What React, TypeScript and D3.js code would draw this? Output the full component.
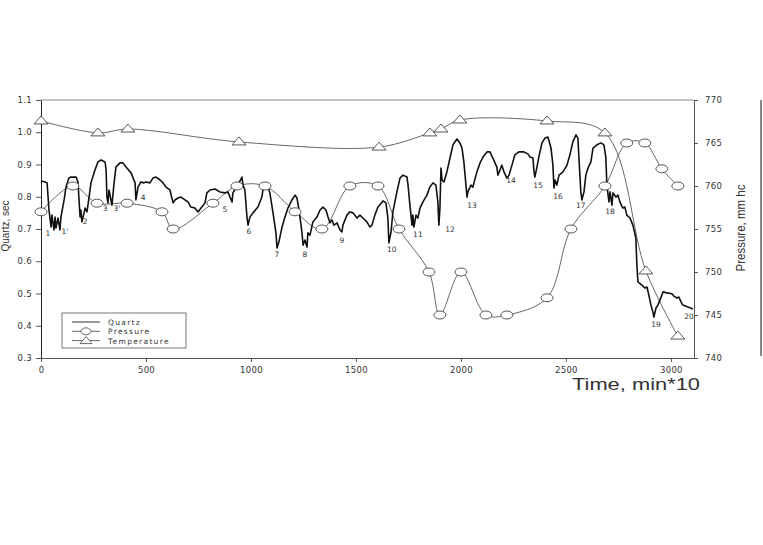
import React, { useRef, useEffect } from 'react';
import * as d3 from 'd3';

// Quartz record: [time (min*10), value (sec)]
const quartz: [number, number][] = [
  [0, 0.849], [19, 0.846], [29, 0.843], [38, 0.759], [48, 0.706], [52, 0.743], [62, 0.697], [67, 0.737],
  [71, 0.703], [81, 0.734], [90, 0.697], [95, 0.737], [110, 0.79], [119, 0.83], [133, 0.858], [143, 0.861],
  [167, 0.861], [176, 0.846], [186, 0.737], [190, 0.759], [195, 0.722], [205, 0.75], [210, 0.765], [219, 0.753],
  [229, 0.799], [238, 0.843], [257, 0.883], [271, 0.908], [286, 0.914], [305, 0.908], [310, 0.883], [314, 0.799],
  [319, 0.781], [324, 0.821], [333, 0.79], [338, 0.774], [348, 0.843], [357, 0.892], [376, 0.905], [390, 0.905],
  [405, 0.892], [429, 0.874], [448, 0.843], [452, 0.79], [462, 0.83], [476, 0.846], [490, 0.843], [500, 0.846],
  [519, 0.843], [533, 0.858], [548, 0.861], [567, 0.852], [581, 0.843], [595, 0.83], [614, 0.821], [629, 0.781],
  [638, 0.79], [652, 0.796], [667, 0.799], [686, 0.79], [700, 0.784], [714, 0.768], [733, 0.765], [748, 0.753],
  [762, 0.765], [781, 0.781], [790, 0.812], [805, 0.821], [829, 0.824], [852, 0.815], [876, 0.812], [890, 0.815],
  [900, 0.799], [910, 0.784], [914, 0.812], [929, 0.827], [943, 0.843], [957, 0.861], [962, 0.836], [971, 0.821],
  [981, 0.737], [986, 0.712], [995, 0.737], [1010, 0.75], [1033, 0.768], [1052, 0.799], [1057, 0.821], [1067, 0.836],
  [1076, 0.843], [1090, 0.812], [1105, 0.75], [1119, 0.688], [1124, 0.641], [1133, 0.66], [1148, 0.706], [1162, 0.737],
  [1176, 0.765], [1195, 0.79], [1210, 0.805], [1219, 0.796], [1229, 0.759], [1243, 0.688], [1248, 0.65], [1257, 0.666],
  [1267, 0.644], [1271, 0.688], [1281, 0.681], [1295, 0.722], [1314, 0.737], [1329, 0.759], [1343, 0.768], [1357, 0.759],
  [1367, 0.737], [1376, 0.719], [1386, 0.728], [1395, 0.712], [1410, 0.719], [1424, 0.697], [1433, 0.691], [1438, 0.712],
  [1457, 0.743], [1471, 0.753], [1486, 0.75], [1505, 0.734], [1519, 0.743], [1533, 0.734], [1552, 0.722], [1567, 0.706],
  [1576, 0.712], [1590, 0.743], [1605, 0.768], [1629, 0.787], [1643, 0.781], [1652, 0.734], [1657, 0.657], [1667, 0.691],
  [1676, 0.753], [1695, 0.815], [1710, 0.858], [1724, 0.867], [1743, 0.861], [1748, 0.836], [1757, 0.774], [1767, 0.712],
  [1771, 0.743], [1776, 0.706], [1786, 0.743], [1795, 0.734], [1805, 0.765], [1819, 0.784], [1838, 0.805], [1852, 0.83],
  [1867, 0.843], [1881, 0.836], [1890, 0.784], [1895, 0.712], [1900, 0.765], [1905, 0.889], [1910, 0.852], [1919, 0.846],
  [1933, 0.877], [1948, 0.92], [1962, 0.961], [1981, 0.979], [1995, 0.967], [2005, 0.951], [2014, 0.908], [2024, 0.836],
  [2029, 0.799], [2033, 0.815], [2048, 0.836], [2057, 0.83], [2076, 0.877], [2091, 0.905], [2105, 0.923], [2124, 0.939],
  [2138, 0.939], [2152, 0.92], [2171, 0.892], [2176, 0.867], [2186, 0.883], [2195, 0.898], [2205, 0.877], [2219, 0.858],
  [2229, 0.867], [2243, 0.898], [2257, 0.93], [2276, 0.939], [2300, 0.939], [2319, 0.933], [2329, 0.923], [2343, 0.92],
  [2348, 0.877], [2352, 0.861], [2362, 0.892], [2371, 0.923], [2386, 0.967], [2400, 0.982], [2414, 0.985], [2429, 0.951],
  [2438, 0.898], [2443, 0.827], [2448, 0.852], [2457, 0.836], [2467, 0.867], [2486, 0.877], [2505, 0.898], [2519, 0.93],
  [2533, 0.97], [2548, 0.992], [2557, 0.982], [2562, 0.92], [2571, 0.815], [2576, 0.79], [2586, 0.815], [2595, 0.867],
  [2605, 0.889], [2619, 0.908], [2629, 0.951], [2648, 0.961], [2667, 0.967], [2681, 0.961], [2690, 0.923], [2695, 0.836],
  [2705, 0.784], [2710, 0.815], [2719, 0.774], [2724, 0.812], [2738, 0.799], [2748, 0.805], [2757, 0.784], [2771, 0.765],
  [2781, 0.768], [2790, 0.743], [2805, 0.734], [2819, 0.712], [2833, 0.672], [2838, 0.588], [2843, 0.536], [2862, 0.526],
  [2876, 0.517], [2886, 0.52], [2895, 0.495], [2905, 0.464], [2914, 0.443], [2919, 0.427], [2929, 0.455], [2938, 0.464],
  [2957, 0.495], [2962, 0.505], [2981, 0.502], [3005, 0.499], [3014, 0.492], [3029, 0.486], [3038, 0.489], [3048, 0.474],
  [3057, 0.464], [3081, 0.458], [3105, 0.452],
];

// Pressure (mm hg), right axis
const pressureTime = [0, 152, 267, 410, 576, 629, 819, 933, 1067, 1210, 1338, 1471, 1605, 1705, 1848, 1900, 2000, 2119, 2219, 2410, 2524, 2686, 2790, 2876, 2957, 3033];
const pressureValue = [757, 760, 758, 758, 757, 755, 758, 760, 760, 757, 755, 760, 760, 755, 750, 745, 750, 745, 745, 747, 755, 760, 765, 765, 762, 760];

// Temperature (drawn against the left scale)
const tempTime = [0, 271, 414, 943, 1610, 1852, 1905, 1995, 2410, 2686, 2881, 3033];
const tempValue = [1.035, 0.998, 1.01, 0.97, 0.954, 0.998, 1.01, 1.038, 1.035, 0.998, 0.57, 0.368];

// event labels along the quartz curve
const eventLabels = ['1', "1'", '2', '3', "3'", '4', '5', '6', '7', '8', '9', '10', '11', '12', '13', '14', '15', '16', '17', '18', '19', '20'];
const eventTime = [33, 114, 210, 305, 362, 486, 876, 990, 1124, 1257, 1433, 1671, 1795, 1948, 2053, 2238, 2367, 2462, 2571, 2710, 2929, 3086];
const eventValue = [0.688, 0.694, 0.725, 0.765, 0.765, 0.799, 0.762, 0.694, 0.622, 0.622, 0.666, 0.638, 0.685, 0.7, 0.774, 0.852, 0.836, 0.802, 0.774, 0.756, 0.405, 0.43];

const xTicks = [0, 500, 1000, 1500, 2000, 2500, 3000];
const legendItems = ['Quartz', 'Pressure', 'Temperature'];

const App: React.FC = () => {
  const svgRef = useRef<SVGSVGElement>(null);

  useEffect(() => {
    if (!svgRef.current) return;
    const svg = d3.select(svgRef.current);
    svg.selectAll('*').remove();

    const left = 41, right = 694, top = 100, bottom = 358;
    const x = d3.scaleLinear().domain([0, 3110]).range([left, right]);
    const yQ = d3.scaleLinear().domain([0.3, 1.1]).range([bottom, top]);
    const yP = d3.scaleLinear().domain([740, 770]).range([bottom, top]);

    const tickFont = (g: any) => g.selectAll('text')
      .attr('font-family', 'DejaVu Sans, sans-serif')
      .attr('font-size', 8.5)
      .attr('letter-spacing', 0.3)
      .attr('fill', '#333');

    // frame top line
    svg.append('line')
      .attr('x1', left).attr('x2', right).attr('y1', top).attr('y2', top)
      .attr('stroke', '#888').attr('stroke-width', 1);

    // axes
    const axL = svg.append('g').attr('transform', `translate(${left},0)`)
      .call(d3.axisLeft(yQ).ticks(8).tickFormat(d3.format('.1f')).tickSize(5).tickSizeOuter(0).tickPadding(4));
    const axB = svg.append('g').attr('transform', `translate(0,${bottom})`)
      .call(d3.axisBottom(x).tickValues(xTicks).tickFormat(d3.format('d')).tickSize(4).tickSizeOuter(0).tickPadding(5));
    const axR = svg.append('g').attr('transform', `translate(${right},0)`)
      .call(d3.axisRight(yP).ticks(6).tickFormat(d3.format('d')).tickSize(4).tickSizeOuter(0).tickPadding(7));
    [axL, axB, axR].forEach(a => {
      a.call(tickFont);
      a.selectAll('path,line').attr('stroke', '#555');
    });
    axL.select('.domain').attr('stroke', '#222');

    // stray frame edge at the right border
    svg.append('line')
      .attr('x1', 761).attr('x2', 761).attr('y1', top).attr('y2', 356)
      .attr('stroke', '#111').attr('stroke-width', 1);

    // axis titles
    svg.append('text')
      .attr('transform', `translate(9,${(top + bottom) / 2 - 3}) rotate(-90)`)
      .attr('text-anchor', 'middle')
      .attr('font-family', 'Liberation Sans Narrow, Liberation Sans, sans-serif')
      .attr('font-size', 10)
      .attr('fill', '#333')
      .text('Quartz, sec');

    svg.append('text')
      .attr('transform', `translate(745,${(top + bottom) / 2 - 1}) rotate(-90)`)
      .attr('text-anchor', 'middle')
      .attr('font-family', 'Liberation Sans Narrow, Liberation Sans, sans-serif')
      .attr('font-size', 12)
      .attr('textLength', 87)
      .attr('lengthAdjust', 'spacingAndGlyphs')
      .attr('fill', '#333')
      .text('Pressure, mm hc');

    svg.append('text')
      .attr('x', 572).attr('y', 390)
      .attr('font-family', 'Liberation Sans, Arial, sans-serif')
      .attr('font-size', 17)
      .attr('textLength', 128)
      .attr('lengthAdjust', 'spacingAndGlyphs')
      .attr('fill', '#333')
      .text('Time, min*10');

    // temperature line
    const tempData = tempTime.map((t, i) => [t, tempValue[i]] as [number, number]);
    svg.append('path')
      .datum(tempData)
      .attr('fill', 'none')
      .attr('stroke', '#555')
      .attr('stroke-width', 0.9)
      .attr('d', d3.line<[number, number]>().curve(d3.curveCatmullRom).x(d => x(d[0])).y(d => yQ(d[1])));

    // pressure line
    const presData = pressureTime.map((t, i) => [t, pressureValue[i]] as [number, number]);
    svg.append('path')
      .datum(presData)
      .attr('fill', 'none')
      .attr('stroke', '#555')
      .attr('stroke-width', 0.9)
      .attr('d', d3.line<[number, number]>().curve(d3.curveCatmullRom).x(d => x(d[0])).y(d => yP(d[1])));

    // quartz line
    svg.append('path')
      .datum(quartz)
      .attr('fill', 'none')
      .attr('stroke', '#111')
      .attr('stroke-width', 1.6)
      .attr('stroke-linejoin', 'round')
      .attr('d', d3.line<[number, number]>().x(d => x(d[0])).y(d => yQ(d[1])));

    // markers
    const tri = 'M0,-5L7,3L-7,3Z';
    svg.selectAll('.pres-dot')
      .data(presData)
      .enter()
      .append('ellipse')
      .attr('class', 'pres-dot')
      .attr('cx', d => x(d[0]))
      .attr('cy', d => yP(d[1]))
      .attr('rx', 6).attr('ry', 4)
      .attr('fill', '#fff').attr('stroke', '#444').attr('stroke-width', 0.9);

    svg.selectAll('.temp-dot')
      .data(tempData)
      .enter()
      .append('path')
      .attr('class', 'temp-dot')
      .attr('transform', d => `translate(${x(d[0])},${yQ(d[1])})`)
      .attr('d', tri)
      .attr('fill', '#fff').attr('stroke', '#444').attr('stroke-width', 0.9);

    // event numbers
    svg.selectAll('.ev')
      .data(eventLabels)
      .enter()
      .append('text')
      .attr('class', 'ev')
      .attr('x', (_, i) => x(eventTime[i]))
      .attr('y', (_, i) => yQ(eventValue[i]) + 3)
      .attr('text-anchor', 'middle')
      .attr('font-family', 'DejaVu Sans, sans-serif')
      .attr('font-size', 7.5)
      .attr('fill', '#333')
      .text(d => d);

    // legend
    const lg = svg.append('g').attr('transform', 'translate(62,313)');
    lg.append('rect')
      .attr('width', 124).attr('height', 35)
      .attr('fill', '#fff').attr('stroke', '#555').attr('stroke-width', 0.8);
    legendItems.forEach((name, i) => {
      const yy = 9 + i * 9.3;
      lg.append('line')
        .attr('x1', 10).attr('x2', 38).attr('y1', yy).attr('y2', yy)
        .attr('stroke', i === 0 ? '#555' : '#444').attr('stroke-width', i === 0 ? 1.2 : 0.8);
      if (i === 1) {
        lg.append('ellipse').attr('cx', 24).attr('cy', yy).attr('rx', 5).attr('ry', 3.5)
          .attr('fill', '#fff').attr('stroke', '#444').attr('stroke-width', 0.8);
      }
      if (i === 2) {
        lg.append('path').attr('transform', `translate(24,${yy})`).attr('d', 'M0,-4L6,3L-6,3Z')
          .attr('fill', '#fff').attr('stroke', '#444').attr('stroke-width', 0.8);
      }
      lg.append('text')
        .attr('x', 46).attr('y', yy + 3)
        .attr('font-family', 'DejaVu Sans, sans-serif')
        .attr('font-size', 7.5)
        .attr('letter-spacing', 1.3)
        .attr('fill', '#333')
        .text(name);
    });
  }, []);

  return (
    <div style={{ position: 'absolute', left: 0, top: 0 }}>
      <svg ref={svgRef} width={763} height={545} style={{ display: 'block', background: '#fff' }} />
    </div>
  );
};

export default App;
